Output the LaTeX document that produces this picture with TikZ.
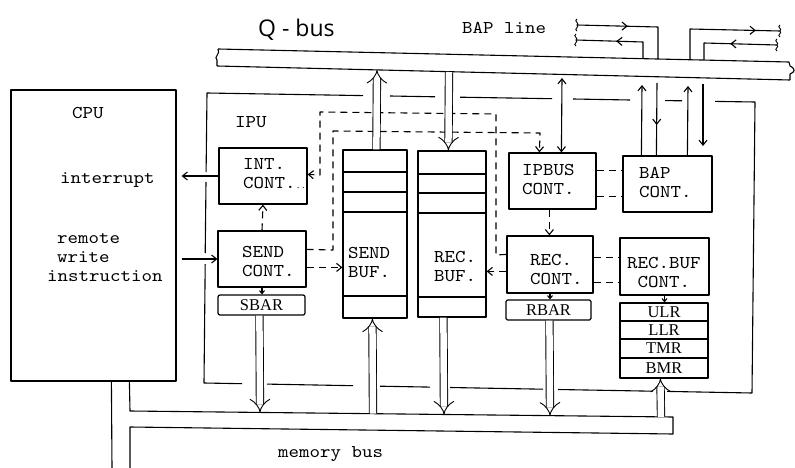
\documentclass[tikz,border=0pt]{standalone}
\usepackage{fontspec}
\newfontfamily\handfont{Open Sans}
\newfontfamily\regfont{Liberation Serif}
\newfontfamily\tw{lmmono10-regular.otf}[FakeStretch=1.11]
\usetikzlibrary{arrows.meta,decorations.markings,calc}
\begin{document}
\begin{tikzpicture}[x=1pt,y=-1pt,line join=round,
  ln/.style={line width=1.1pt},
  box/.style={draw,line width=1.2pt,inner sep=0pt},
  tt/.style={font=\fontsize{18}{19}\selectfont\tw,inner sep=0pt,anchor=base west},
  ttb/.style={font=\fontsize{18}{19}\selectfont\tw,inner sep=0pt,align=left,anchor=west},
  rmt/.style={font=\fontsize{16.5}{16.5}\selectfont\regfont},
  tip/.style={-{Straight Barb[length=5pt,width=8pt]}},
  tiptwo/.style={{Straight Barb[length=5pt,width=8pt]}-{Straight Barb[length=5pt,width=8pt]}},
  smalltip/.style={-{Straight Barb[length=3pt,width=5pt]}},
  dsh/.style={dash pattern=on 7pt off 5pt},
  dbl/.style={double,double distance=6.5pt,line width=0.9pt,-{Implies[scale=1.3]}},
  midarr/.style={postaction={decorate},decoration={markings,mark=at position #1 with {\arrow{Straight Barb[length=5pt,width=8pt]}}}},
  squig/.pic={\draw[line width=0.9pt] (0,-6) .. controls (-4,-4) and (3,-2) .. (0,0) .. controls (3,2) and (-4,4) .. (0,6);}
]
\useasboundingbox (0,0) rectangle (795,468);

% ---------- Q-bus ----------
\node[font=\handfont\fontsize{23}{23}\selectfont,anchor=base west,inner sep=0pt] (qbusT) at (258,37) {Q - bus};
\node[tt] (bapT) at (462,34) {BAP line};
\draw[ln] (218,49) -- (789,62);
\draw[ln] (217,66) -- (790,80);
\draw[ln] (218,49) .. controls (221,54) and (213,57) .. (217,60) -- (217,66);
\draw[ln] (789,62) -- (790,66) .. controls (796,69) and (795,72) .. (790,74) -- (790,80);

% BAP lines above the bus
\coordinate (b1) at (577,25); \coordinate (b1c) at (658,27); \coordinate (b1e) at (658,59);
\coordinate (b2) at (576,40); \coordinate (b2c) at (643,42); \coordinate (b2e) at (643,58.7);
\coordinate (b3) at (780,31); \coordinate (b3c) at (690,29); \coordinate (b3e) at (690,59.7);
\coordinate (b4) at (777,45); \coordinate (b4c) at (704,43); \coordinate (b4e) at (704,60);
\draw[ln,midarr=0.45] (b1) -- (b1c) -- (b1e);
\draw[ln,midarr=0.52] (b2e) -- (b2c) -- (b2);
\draw[ln,midarr=0.8] (b3e) -- (b3c) -- (b3);
\draw[ln,midarr=0.52] (b4) -- (b4c) -- (b4e);
\pic at (b1) {squig};
\pic at (b2) {squig};
\pic at (b3) {squig};
\pic at (b4) {squig};

% ---------- CPU ----------
\node[box,minimum width=165pt,minimum height=291pt] (cpu) at (93.5,235.5) {};
\node[tt] (cpuT) at (72,119) {CPU};
\node[tt] (intrT) at (60,183) {interrupt};
\node[tt] (remT) at (57,243) {remote};
\node[tt] (wrT) at (57,262) {write};
\node[tt] (insT) at (47,281) {instruction};

% ---------- IPU frame ----------
\draw[ln] (206.1,172) -- (207,93) -- (363,95.6);
\draw[ln] (390,96) -- (435,96.8);
\draw[ln] (460,97.2) -- (552,98.7);
\draw[ln] (573,99) -- (630,100);
\draw[ln] (665,100.6) -- (682,100.8);
\draw[ln] (715,101.4) -- (755,102) -- (752,393) -- (667,391.4);
\draw[ln] (653,391.2) -- (558,389.5);
\draw[ln] (543,389.2) -- (450,387.5);
\draw[ln] (430,387.1) -- (380,386.2);
\draw[ln] (353,385.7) -- (267,384.1);
\draw[ln] (242,383.7) -- (204,383) -- (205.2,264);
\draw[ln] (205.2,253) -- (206,182);
\node[tt] (ipuT) at (235,128) {IPU};

% ---------- boxes ----------
\node[box,minimum width=88pt,minimum height=56pt] (intc) at (263,176) {};
\node[box,minimum width=88pt,minimum height=56pt] (sendc) at (262,259) {};
\node[box,rounded corners=2pt,minimum width=87pt,minimum height=20pt,rmt] (sbar) at (261.5,305) {SBAR};
\node[box,minimum width=64pt,minimum height=168pt] (sbuf) at (375,234) {};
\node[box,minimum width=68pt,minimum height=166pt] (rbuf) at (452,234) {};
\node[box,minimum width=87pt,minimum height=56pt] (ipbus) at (552.5,181) {};
\node[box,minimum width=89pt,minimum height=56pt] (bapc) at (667.5,184) {};
\node[box,minimum width=86pt,minimum height=57pt] (recc) at (550,264.5) {};
\node[box,minimum width=89pt,minimum height=57pt] (rbufc) at (664.5,266.5) {};
\node[box,rounded corners=1.5pt,minimum width=85pt,minimum height=20pt,rmt] (rbar) at (548.5,310) {RBAR};
\node[box,minimum width=88pt,minimum height=18pt,rmt] (ulr) at (664,312) {ULR};
\node[box,minimum width=88pt,minimum height=18pt,rmt] (llr) at (664,330) {LLR};
\node[box,minimum width=88pt,minimum height=19pt,rmt] (tmr) at (664,348.5) {TMR};
\node[box,minimum width=88pt,minimum height=20pt,rmt] (bmr) at (664,368) {BMR};

% buffer dividers
\foreach \yy in {172,192,212,296} \draw[ln] (343,\yy) -- (407,\yy);
\foreach \yy in {174,193,213,297} \draw[ln] (418,\yy) -- (486,\yy);

% box texts
\node[ttb] (intT) at (243,174) {INT.\\CONT.{\fontsize{9}{9}\selectfont..}};
\node[ttb] (sndT) at (242,261.5) {SEND\\CONT.};
\node[ttb] (sbT) at (348,262.5) {SEND\\BUF.};
\node[ttb] (rbT) at (434,266.5) {REC.\\BUF.};
\node[ttb] (ipT) at (522,180) {IPBUS\\CONT.};
\node[ttb] (bpT) at (639,182.5) {BAP\\CONT.};
\node[ttb] (rcT) at (530,269.5) {REC.\\CONT.};
\node[ttb,align=center] (rfT) at (627,272) {REC.BUF\\CONT.};

% ---------- CPU <-> IPU ----------
\draw[ln,tip] (intc.west) -- ([xshift=5pt]cpu.east |- intc.west);
\draw[ln,tip] ([xshift=5pt]cpu.east |- sendc.west) -- (sendc.west);

% ---------- control connections ----------
\draw[ln,dsh,tip] (sendc.north) -- (intc.south);
\draw[ln,smalltip] (sendc.south) -- (sendc.south |- sbar.north);
\draw[ln,smalltip] (recc.south) -- (recc.south |- rbar.north);
\draw[ln,smalltip] (rbufc.south) -- (rbufc.south |- ulr.north);

\draw[ln,dsh,tip] ($(recc.north west)+(0,19)$) -- (496,255) -- (496,114) -- (320,112) -- (320,175) -- ($(intc.north east)+(0,27)$);
\draw[ln,dsh,tip] ($(sendc.north east)+(0,19)$) -- (333,250) -- (333,131) -- (540,133) -- ($(ipbus.north west)+(31,0)$);
\draw[ln,dsh,tip] ($(sendc.north east)+(0,37)$) -- ($(sbuf.north west)+(0,118)$);
\draw[ln,dsh,tip] ($(recc.north west)+(0,36)$) -- ($(rbuf.north east)+(0,121)$);
\draw[ln,dsh,tip] ($(ipbus.south west)+(41,0)$) -- ($(recc.north west)+(43,0)$);
\draw[ln,dsh] ($(ipbus.north east)+(0,18)$) -- ($(bapc.north west)+(0,15)$);
\draw[ln,dsh] ($(ipbus.north east)+(0,44)$) -- ($(bapc.north west)+(0,41)$);
\draw[ln,dsh] ($(recc.north east)+(0,22)$) -- ($(rbufc.north west)+(0,20)$);
\draw[ln,dsh] ($(recc.north east)+(0,47)$) -- ($(rbufc.north west)+(0,45)$);

% ---------- Q-bus connections ----------
\coordinate (q1) at (377,70);
\coordinate (q2) at (449,72);
\coordinate (q3) at (562,78);
\draw[dbl] ($(sbuf.north west)+(34,0)$) -- (q1);
\draw[dbl] (q2) -- ($(rbuf.north west)+(31,0)$);
\draw[ln,tiptwo] (q3) -- ($(ipbus.north west)+(53,0)$);
\coordinate (p1) at (642,85);
\coordinate (p2) at (657,83);
\coordinate (p3) at (688,86);
\coordinate (p4) at (703,84);
\coordinate (p4e) at (703,146);
\draw[ln,tip] ($(bapc.north west)+(19,0)$) -- (p1);
\draw[ln,midarr=0.58] (p2) -- ($(bapc.north west)+(34,0)$);
\draw[ln,tip] ($(bapc.north west)+(65,0)$) -- (p3);
\draw[ln,tip] (p4) -- (p4e);

% ---------- memory bus ----------
\draw[ln] ($(cpu.south west)+(101,0)$) -- (112,468);
\draw[ln] ($(cpu.south west)+(119,0)$) -- (130,411) -- (673,417) -- (673,434) -- (130,427) -- (130,468);
\node[tt] (memT) at (278,457) {memory bus};
\coordinate (m1) at (260,412.4);
\coordinate (m2) at (373,413.7);
\coordinate (m3) at (444,414.5);
\coordinate (m4) at (550,415.6);
\coordinate (m5) at (661,416.9);
\draw[dbl] ($(sbar.south west)+(42,0)$) -- (m1);
\draw[dbl] (m2) -- ($(sbuf.south west)+(30,0)$);
\draw[dbl] ($(rbuf.south west)+(26,0)$) -- (m3);
\draw[dbl] ($(rbar.south west)+(44,0)$) -- (m4);
\draw[dbl] (m5) -- ($(bmr.south west)+(41,0)$);
\end{tikzpicture}
\end{document}
